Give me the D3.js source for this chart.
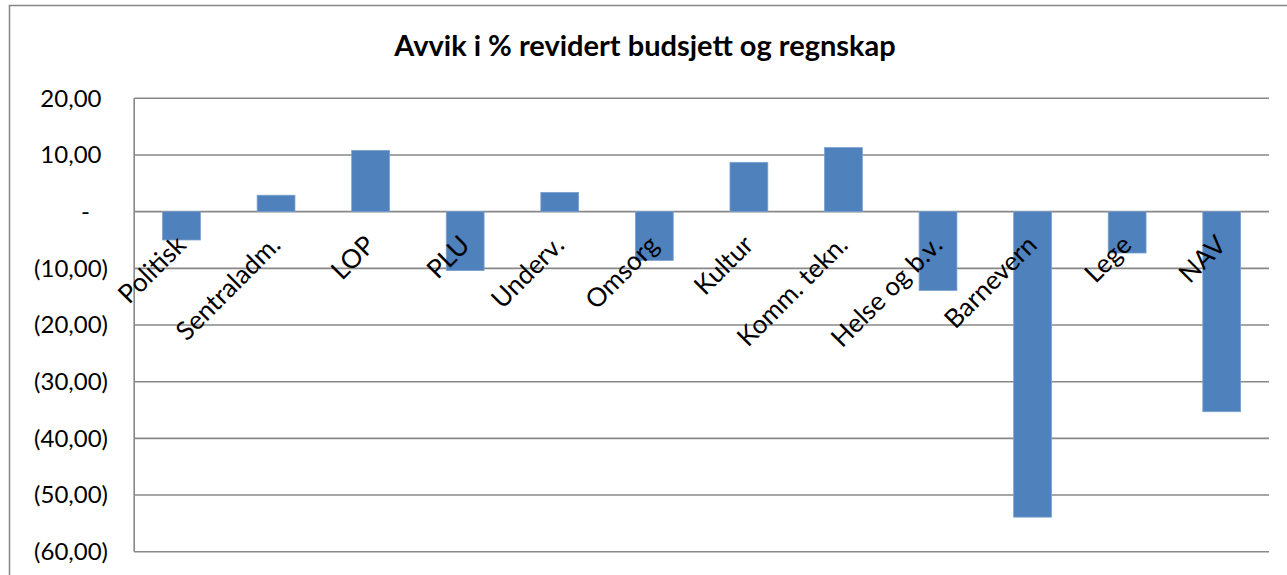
<!DOCTYPE html>
<html>
<head>
<meta charset="utf-8">
<script src="https://cdn.jsdelivr.net/npm/d3@7"></script>
<style>
  html, body { margin: 0; padding: 0; background: #fff; }
  svg { display: block; }
  text { font-family: Lato, "Open Sans", sans-serif; fill: #000; }
</style>
</head>
<body>
<svg id="chart" width="1287" height="575"></svg>
<script>
const title = "Avvik i % revidert budsjett og regnskap";
const categories = ["Politisk", "Sentraladm.", "LOP", "PLU", "Underv.", "Omsorg", "Kultur", "Komm. tekn.", "Helse og b.v.", "Barnevern", "Lege", "NAV"];
const values = [-5.0, 2.9, 10.8, -10.4, 3.4, -8.6, 8.7, 11.3, -13.9, -53.9, -7.3, -35.3];
const tickValues = [20, 10, 0, -10, -20, -30, -40, -50, -60];
const tickLabels = ["20,00", "10,00", "-", "(10,00)", "(20,00)", "(30,00)", "(40,00)", "(50,00)", "(60,00)"];

(function () {
const svg = d3.select("#chart");
const W = 1287, H = 575;
const pLeft = 134.2, pRight = 1269, pTop = 98.3, pBottom = 551.7;

// outer chart frame
svg.append("rect")
  .attr("x", 9.5).attr("y", 5.5)
  .attr("width", W + 20).attr("height", H + 20)
  .attr("fill", "#fff").attr("stroke", "#868686").attr("stroke-width", 1.5);

const x = d3.scaleBand().domain(categories).range([pLeft, pRight])
  .paddingInner(0.6).paddingOuter(0.3);
const y = d3.scaleLinear().domain([-60, 20]).range([pBottom, pTop]);

// gridlines
svg.append("g").selectAll("line").data(tickValues).join("line")
  .attr("x1", pLeft).attr("x2", pRight)
  .attr("y1", d => y(d)).attr("y2", d => y(d))
  .attr("stroke", "#888").attr("stroke-width", 1.6);

// left axis line
svg.append("line").attr("x1", pLeft).attr("x2", pLeft)
  .attr("y1", pTop).attr("y2", pBottom)
  .attr("stroke", "#888").attr("stroke-width", 1.6);

// y tick labels
svg.append("g").selectAll("text").data(tickValues).join("text")
  .attr("x", (d, i) => tickLabels[i].startsWith("(") ? 108 : (d === 0 ? 90 : 101.5))
  .attr("y", d => y(d))
  .attr("dy", "0.35em")
  .attr("text-anchor", "end")
  .attr("font-size", 24)
  .text((d, i) => tickLabels[i]);

// bars
svg.append("g").selectAll("rect").data(values).join("rect")
  .attr("x", (d, i) => x(categories[i]))
  .attr("width", x.bandwidth())
  .attr("y", d => y(Math.max(0, d)))
  .attr("height", d => Math.abs(y(d) - y(0)))
  .attr("fill", "#4F81BD")
  .attr("stroke", "#7BA0CF").attr("stroke-width", 0.8);

// category labels (rotated)
const y0 = y(0);
svg.append("g").selectAll("text").data(categories).join("text")
  .attr("transform", d => `translate(${x(d) + x.bandwidth() / 2 + 6},${y0 + 35}) rotate(-45)`)
  .attr("text-anchor", "end")
  .attr("font-size", 26)
  .text(d => d);

// title
svg.append("text")
  .attr("x", 645).attr("y", 56)
  .attr("text-anchor", "middle")
  .attr("font-size", 29)
  .attr("font-weight", "bold")
  .text(title);
})();
</script>
</body>
</html>
